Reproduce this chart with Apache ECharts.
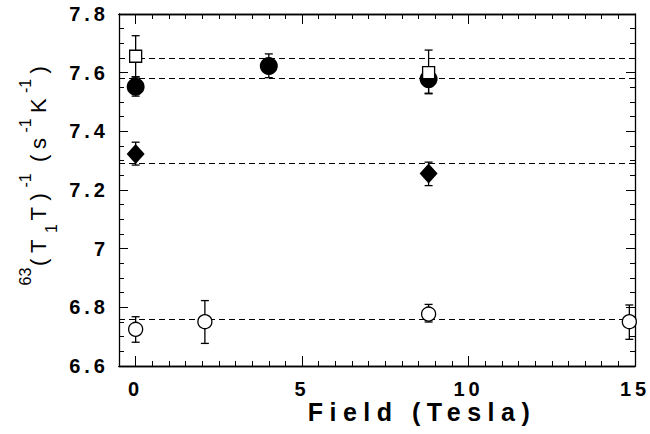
<!DOCTYPE html>
<html><head><meta charset="utf-8">
<script src="https://cdn.jsdelivr.net/npm/echarts@6/dist/echarts.min.js"></script>
<style>
html,body{margin:0;padding:0;background:#fff;}
#c{width:650px;height:434px;}
svg text{letter-spacing:4px;}
svg text[style*="25px"], svg text[font-size="25"], svg text[font-size="25px"]{letter-spacing:6.5px;}
svg text[style*="16px"], svg text[font-size="16"], svg text[font-size="16px"]{letter-spacing:0;}
</style></head>
<body><div id="c"></div>
<script>
// ---- data ----
const sqX = [0, 8.8];
const sqY = [7.656, 7.600];
const sqLo = [7.586, 7.530];
const sqHi = [7.726, 7.677];

const fcX = [0, 4, 8.8];
const fcY = [7.552, 7.623, 7.578];
const fcLo = [7.520, 7.583, 7.528];
const fcHi = [7.585, 7.664, 7.620];

const dmX = [0, 8.8];
const dmY = [7.323, 7.256];
const dmLo = [7.285, 7.215];
const dmHi = [7.363, 7.295];

const ocX = [0, 2.08, 8.8, 14.83];
const ocY = [6.725, 6.751, 6.777, 6.751];
const ocLo = [6.681, 6.677, 6.750, 6.691];
const ocHi = [6.768, 6.823, 6.810, 6.808];

const refLines = [7.650, 7.582, 7.289, 6.760];

const xMajorTicks = [0, 5, 10, 15];
const xMinorTicks = [-0.5, 0.5, 1, 1.5, 2, 2.5, 3, 3.5, 4, 4.5, 5.5, 6, 6.5, 7, 7.5, 8, 8.5, 9, 9.5, 10.5, 11, 11.5, 12, 12.5, 13, 13.5, 14, 14.5];
const xMin = -0.5, xMax = 15;
const yMin = 6.6, yMax = 7.8, yStep = 0.2;

const xTitle = 'Field (Tesla)';

// ---- chart ----
const FONT = 'Liberation Sans';
const chart = echarts.init(document.getElementById('c'), null, {renderer: 'svg'});

function pts(xs, ys) { return xs.map((x, i) => [x, ys[i]]); }
function errs(xs, lo, hi) { return xs.map((x, i) => [x, lo[i], hi[i]]); }

function errSeries(data) {
  return {
    type: 'custom', xAxisIndex: 0, yAxisIndex: 0, z: 3, silent: true,
    data: data,
    renderItem: function (params, api) {
      const x = api.value(0);
      const p1 = api.coord([x, api.value(1)]);
      const p2 = api.coord([x, api.value(2)]);
      const hw = 4;
      const st = {stroke: '#000', lineWidth: 1.3};
      return {type: 'group', children: [
        {type: 'line', shape: {x1: p1[0], y1: p1[1], x2: p2[0], y2: p2[1]}, style: st},
        {type: 'line', shape: {x1: p1[0] - hw, y1: p1[1], x2: p1[0] + hw, y2: p1[1]}, style: st},
        {type: 'line', shape: {x1: p2[0] - hw, y1: p2[1], x2: p2[0] + hw, y2: p2[1]}, style: st}
      ]};
    }
  };
}

const axisLineStyle = {color: '#000', width: 1.3};
const tickLabelStyle = {color: '#000', fontFamily: FONT, fontWeight: 'bold', fontSize: 20};
function xAx(pos, ticks, len, labels, name) {
  return {
    type: 'value', position: pos, min: xMin, max: xMax,
    axisLine: {show: true, onZero: false, lineStyle: axisLineStyle},
    axisTick: {show: true, inside: true, length: len, customValues: ticks, lineStyle: {color: '#000', width: 1}},
    axisLabel: labels ? Object.assign({show: true, customValues: xMajorTicks, margin: 14, lineHeight: 18}, tickLabelStyle) : {show: false},
    splitLine: {show: false}, minorTick: {show: false},
    name: name || '', nameLocation: 'middle', nameGap: 36, nameMoveOverlap: false,
    nameTextStyle: {fontFamily: FONT, fontWeight: 'bold', fontSize: 25, lineHeight: 20, color: '#000', padding: [0, 0, 0, 90]}
  };
}
function yAx(pos, labels) {
  const ax = {
    type: 'value', position: pos, min: yMin, max: yMax, interval: yStep,
    axisLine: {show: true, onZero: false, lineStyle: axisLineStyle},
    axisTick: {show: true, inside: true, length: 9, lineStyle: {color: '#000', width: 1}},
    minorTick: {show: true, splitNumber: 4, length: 5, lineStyle: {color: '#000', width: 1}},
    axisLabel: labels ? Object.assign({show: true, margin: 10}, tickLabelStyle) : {show: false},
    splitLine: {show: false}
  };
  if (labels) {
    const big = {fontFamily: FONT, fontSize: 22, color: '#000', lineHeight: 42, verticalAlign: 'middle', align: 'left'};
    const small = {fontFamily: FONT, fontSize: 16, color: '#000', align: 'left'};
    ax.name = '{sup|63}{p|(}{t|T}{sub|1}{t|T}{p|)}{sup|-1}{sp| }{p|(}{s|s}{sup|-1}{t|K}{sup|-1}{p|)}';
    ax.nameLocation = 'middle';
    ax.nameGap = 60;
    ax.nameRotate = 90;
    ax.nameMoveOverlap = false;
    ax.nameTextStyle = {fontFamily: FONT, fontSize: 22, color: '#000', padding: [0, 0, 0, 34], rich: {
      t: Object.assign({}, big, {width: 20}),
      p: Object.assign({}, big, {width: 13}),
      s: Object.assign({}, big, {width: 16.5}),
      sp: Object.assign({}, big, {width: 6}),
      sup: Object.assign({}, small, {width: 19.5, lineHeight: 18, verticalAlign: 'top'}),
      sub: Object.assign({}, small, {width: 12.5, lineHeight: 26, verticalAlign: 'bottom'})
    }};
  }
  return ax;
}

const option = {
  backgroundColor: '#fff',
  animation: false,
  grid: {left: 119, right: 15, top: 14, bottom: 68},
  xAxis: [
    xAx('bottom', xMajorTicks, 10, true, xTitle),
    xAx('bottom', xMinorTicks, 5, false),
    xAx('top', xMajorTicks, 10, false),
    xAx('top', xMinorTicks, 5, false)
  ],
  yAxis: [yAx('left', true), yAx('right', false)],
  series: [
    {
      type: 'line', data: [], xAxisIndex: 0, yAxisIndex: 0, z: 1,
      markLine: {
        silent: true, symbol: ['none', 'none'], label: {show: false},
        lineStyle: {color: '#000', type: [6, 4], width: 1.2},
        data: refLines.map(v => ({yAxis: v}))
      }
    },
    errSeries(errs(ocX, ocLo, ocHi)),
    errSeries(errs(dmX, dmLo, dmHi)),
    errSeries(errs(fcX, fcLo, fcHi)),
    errSeries(errs(sqX, sqLo, sqHi)),
    {type: 'scatter', z: 5, symbol: 'circle', symbolSize: 14, data: pts(ocX, ocY),
      itemStyle: {color: '#fff', borderColor: '#000', borderWidth: 1.3, opacity: 1}},
    {type: 'scatter', z: 5, symbol: 'diamond', symbolSize: [18, 20], data: pts(dmX, dmY),
      itemStyle: {color: '#000', opacity: 1}},
    {type: 'scatter', z: 5, symbol: 'circle', symbolSize: 18, data: pts(fcX, fcY),
      itemStyle: {color: '#000', opacity: 1}},
    {type: 'scatter', z: 6, symbol: 'rect', symbolSize: 12, data: pts(sqX, sqY),
      itemStyle: {color: '#fff', borderColor: '#000', borderWidth: 1.3, opacity: 1}}
  ]
};
chart.setOption(option);
</script></body></html>
